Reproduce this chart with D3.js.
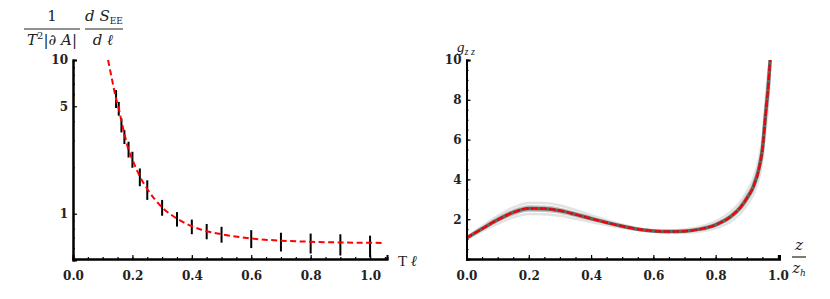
<!DOCTYPE html>
<html>
<head>
<meta charset="utf-8">
<script src="https://cdn.jsdelivr.net/npm/d3@7"></script>
<style>
  body { margin: 0; background: #fff; }
  text { font-family: "DejaVu Serif", serif; }
  .tick text { font-family: "DejaVu Serif", serif; font-weight: bold; font-size: 12px; fill: #222; }
  .math { font-family: "Liberation Serif", serif; font-size: 15px; fill: #222; }
</style>
</head>
<body>
<svg id="chart" width="830" height="299"></svg>
<script>
// left panel: error-bar data
const ellData = [0.145, 0.154, 0.163, 0.173, 0.187, 0.2, 0.225, 0.25, 0.3, 0.35, 0.4, 0.45, 0.5, 0.6, 0.7, 0.8, 0.9, 1.0];
const entropyData = [5.62, 4.84, 3.78, 3.17, 2.63, 2.26, 1.74, 1.44, 1.10, 0.925, 0.826, 0.77, 0.735, 0.69, 0.66, 0.647, 0.635, 0.62];
const entropyErr = [0.75, 0.5, 0.4, 0.33, 0.31, 0.27, 0.23, 0.21, 0.13, 0.10, 0.09, 0.088, 0.087, 0.092, 0.092, 0.096, 0.1, 0.1];

// left panel: fitted curve
const ellFit = [0.118, 0.13, 0.145, 0.155, 0.165, 0.175, 0.185, 0.2, 0.225, 0.25, 0.3, 0.35, 0.4, 0.45, 0.5, 0.6, 0.7, 0.8, 0.9, 1.0, 1.05];
const entropyFit = [10, 7.7, 5.6, 4.75, 3.85, 3.2, 2.68, 2.25, 1.75, 1.45, 1.1, 0.93, 0.83, 0.77, 0.735, 0.69, 0.668, 0.657, 0.65, 0.647, 0.645];

// right panel: metric g_zz
const zGrid = [0, 0.05, 0.1, 0.15, 0.2, 0.25, 0.3, 0.35, 0.4, 0.45, 0.5, 0.55, 0.6, 0.65, 0.7, 0.75, 0.8, 0.85, 0.88, 0.9, 0.92, 0.94, 0.95, 0.96, 0.97, 0.975];
const gTrue = [1.05, 1.52, 1.97, 2.34, 2.54, 2.53, 2.43, 2.24, 2.03, 1.83, 1.65, 1.5, 1.41, 1.38, 1.4, 1.5, 1.72, 2.15, 2.6, 3.05, 3.6, 4.6, 5.5, 7.2, 8.9, 10];
const gSamples = [
  [1.1, 1.64, 2.17, 2.59, 2.82, 2.81, 2.69, 2.46, 2.2, 1.95, 1.73, 1.55, 1.45, 1.43, 1.48, 1.62, 1.9, 2.4, 2.9, 3.4, 4.0, 5.1, 6.1, 7.9, 9.6, 10],
  [1.07, 1.57, 2.05, 2.43, 2.64, 2.63, 2.52, 2.32, 2.09, 1.88, 1.69, 1.52, 1.43, 1.4, 1.43, 1.54, 1.78, 2.23, 2.7, 3.17, 3.75, 4.8, 5.7, 7.5, 9.2, 10],
  [1.03, 1.47, 1.9, 2.25, 2.44, 2.43, 2.34, 2.16, 1.97, 1.78, 1.61, 1.48, 1.39, 1.36, 1.37, 1.46, 1.66, 2.07, 2.5, 2.93, 3.45, 4.4, 5.3, 6.9, 8.6, 10],
  [1.0, 1.4, 1.77, 2.09, 2.26, 2.25, 2.17, 2.02, 1.86, 1.71, 1.57, 1.45, 1.37, 1.33, 1.32, 1.38, 1.54, 1.9, 2.3, 2.7, 3.2, 4.1, 4.9, 6.4, 8.0, 9.6]
];

const svg = d3.select("#chart");

// ---------- left panel ----------
const xL = d3.scaleLinear().domain([0, 1.057]).range([73, 387]);
const yL = d3.scaleLog().domain([0.5, 10]).range([260, 60]);

const left = svg.append("g");

left.append("g")
  .selectAll("line")
  .data(ellData)
  .enter()
  .append("line")
  .attr("x1", (d) => xL(d))
  .attr("x2", (d) => xL(d))
  .attr("y1", (d, i) => yL(entropyData[i] - entropyErr[i]))
  .attr("y2", (d, i) => yL(entropyData[i] + entropyErr[i]))
  .attr("stroke", "#000")
  .attr("stroke-width", 2);

left.append("path")
  .datum(ellFit.map((d, i) => [d, entropyFit[i]]))
  .attr("fill", "none")
  .attr("stroke", "#f00")
  .attr("stroke-width", 2)
  .attr("stroke-dasharray", "6,3.5")
  .attr("d", d3.line().x((d) => xL(d[0])).y((d) => yL(d[1])).curve(d3.curveMonotoneX));

// axes (ticks point inward)
function styleAxis(g) {
  g.select(".domain").attr("stroke", "#000").attr("stroke-width", 2);
  g.selectAll(".tick line").attr("stroke", "#000").attr("stroke-width", 1.2);
}

left.append("g")
  .attr("transform", "translate(0,259)")
  .call(d3.axisBottom(xL).tickValues(d3.range(0.05, 1.06, 0.05)).tickSize(-2).tickFormat(""))
  .call(styleAxis);
left.append("g")
  .attr("transform", "translate(0,259)")
  .call(d3.axisBottom(xL).tickValues([0, 0.2, 0.4, 0.6, 0.8, 1.0]).tickSize(-4).tickPadding(12).tickFormat(d3.format(".1f")))
  .call(styleAxis);

left.append("g")
  .attr("transform", "translate(73,0)")
  .call(d3.axisLeft(yL).tickValues([0.6, 0.7, 0.8, 0.9, 2, 3, 4, 6, 7, 8, 9]).tickSize(-2).tickFormat(""))
  .call(styleAxis);
left.append("g")
  .attr("transform", "translate(73,0)")
  .call(d3.axisLeft(yL).tickValues([1, 5, 10]).tickSize(-4).tickPadding(5).tickFormat(d3.format("d")))
  .call(styleAxis);

// left y label: 1/(T^2|∂A|) dS_EE/dℓ
const lab = left.append("g").attr("class", "math");
lab.append("text").attr("x", 52).attr("y", 21).attr("text-anchor", "middle").text("1");
lab.append("line").attr("x1", 24).attr("x2", 80).attr("y1", 29).attr("y2", 29).attr("stroke", "#222").attr("stroke-width", 1);
const den = lab.append("text").attr("x", 52).attr("y", 45).attr("text-anchor", "middle");
den.append("tspan").attr("font-style", "italic").text("T");
den.append("tspan").attr("font-size", 10).attr("dy", -6).text("2");
den.append("tspan").attr("dy", 6).text("|");
den.append("tspan").attr("font-style", "italic").text("∂ A");
den.append("tspan").text("|");
lab.append("line").attr("x1", 85).attr("x2", 123).attr("y1", 29).attr("y2", 29).attr("stroke", "#222").attr("stroke-width", 1);
const num = lab.append("text").attr("x", 104).attr("y", 21).attr("text-anchor", "middle");
num.append("tspan").attr("font-style", "italic").text("d S");
num.append("tspan").attr("font-size", 9).attr("dy", 3).text("EE");
const dl = lab.append("text").attr("x", 103).attr("y", 45).attr("text-anchor", "middle");
dl.append("tspan").attr("font-style", "italic").text("d ℓ");

const xlab = left.append("text").attr("class", "math").attr("x", 398).attr("y", 266);
xlab.append("tspan").text("T ");
xlab.append("tspan").attr("font-style", "italic").text("ℓ");

// ---------- right panel ----------
const xR = d3.scaleLinear().domain([0, 1.005]).range([466.5, 779.5]);
const yR = d3.scaleLinear().domain([0, 10]).range([259, 60]);
const right = svg.append("g");

const lineR = d3.line().x((d) => xR(d[0])).y((d) => yR(d[1])).curve(d3.curveMonotoneX);

right.append("g")
  .selectAll("path")
  .data(gSamples)
  .enter()
  .append("path")
  .attr("fill", "none")
  .attr("stroke", (d, i) => (i === 0 || i === 3 ? "#dcdcdc" : "#b4b4b4"))
  .attr("stroke-width", 2.5)
  .attr("stroke-opacity", 0.8)
  .attr("d", (d) => lineR(zGrid.map((z, i) => [z, d[i]])));

right.append("path")
  .datum(zGrid.map((z, i) => [z, gTrue[i]]))
  .attr("fill", "none")
  .attr("stroke", "#666")
  .attr("stroke-width", 3.5)
  .attr("d", lineR);

right.append("path")
  .datum(zGrid.map((z, i) => [z, gTrue[i]]))
  .attr("fill", "none")
  .attr("stroke", "#000")
  .attr("stroke-width", 1.5)
  .attr("stroke-dasharray", "1.5,3")
  .attr("d", lineR);

right.append("path")
  .datum(zGrid.map((z, i) => [z, gTrue[i]]))
  .attr("fill", "none")
  .attr("stroke", "#f00")
  .attr("stroke-width", 2.2)
  .attr("stroke-dasharray", "6,3")
  .attr("d", lineR);

right.append("g")
  .attr("transform", "translate(0,259)")
  .call(d3.axisBottom(xR).tickValues(d3.range(0.05, 1.0, 0.05)).tickSize(-2).tickFormat(""))
  .call(styleAxis);
right.append("g")
  .attr("transform", "translate(0,259)")
  .call(d3.axisBottom(xR).tickValues([0, 0.2, 0.4, 0.6, 0.8, 1.0]).tickSize(-4).tickPadding(12).tickFormat(d3.format(".1f")))
  .call(styleAxis);

right.append("g")
  .attr("transform", "translate(466.5,0)")
  .call(d3.axisLeft(yR).tickValues(d3.range(0.5, 10, 0.5)).tickSize(-2).tickFormat(""))
  .call(styleAxis);
right.append("g")
  .attr("transform", "translate(466.5,0)")
  .call(d3.axisLeft(yR).tickValues([2, 4, 6, 8, 10]).tickSize(-4).tickPadding(5).tickFormat(d3.format("d")))
  .call(styleAxis);

const glab = right.append("text").attr("class", "math").attr("x", 457).attr("y", 52);
glab.append("tspan").attr("font-style", "italic").text("g");
glab.append("tspan").attr("font-style", "italic").attr("font-size", 10).attr("dy", 3).text("z z");

const zl = right.append("g").attr("class", "math");
zl.append("text").attr("x", 799).attr("y", 250).attr("text-anchor", "middle").attr("font-style", "italic").text("z");
zl.append("line").attr("x1", 792).attr("x2", 806).attr("y1", 257).attr("y2", 257).attr("stroke", "#222").attr("stroke-width", 1.2);
const zh = zl.append("text").attr("x", 799).attr("y", 273).attr("text-anchor", "middle");
zh.append("tspan").attr("font-style", "italic").text("z");
zh.append("tspan").attr("font-style", "italic").attr("font-size", 9).attr("dy", 3).text("h");
</script>
</body>
</html>
